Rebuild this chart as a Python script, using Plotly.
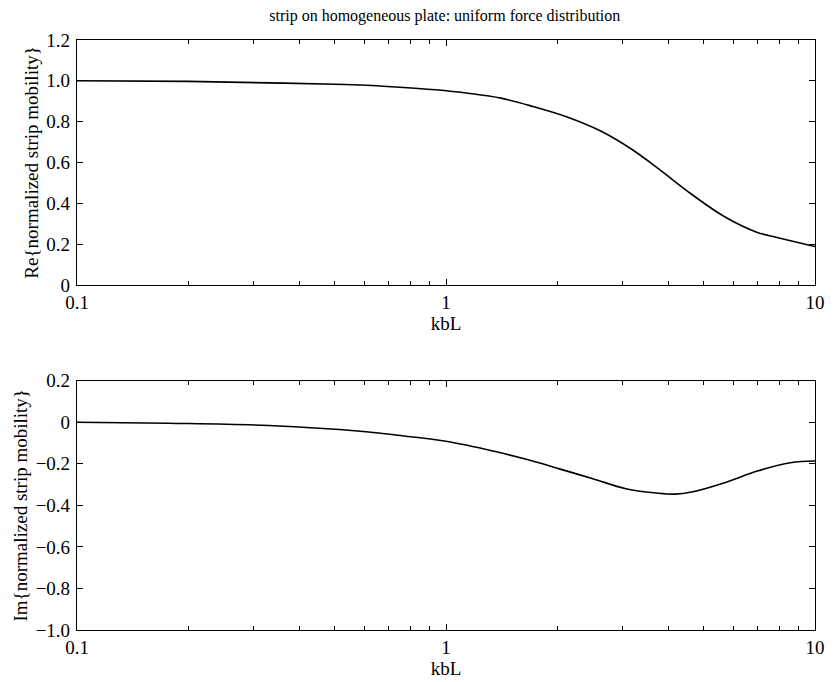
import plotly.graph_objects as go

# ---- data ----
kbl_re = [0.1, 0.2, 0.33, 0.5, 0.607, 0.73, 0.934, 1.147, 1.41, 1.73, 2.12, 2.61,
          3.20, 3.77, 4.63, 5.69, 6.98, 7.89, 10.0]
re_mob = [1.0, 0.997, 0.99, 0.983, 0.978, 0.970, 0.956, 0.939, 0.915, 0.873, 0.824,
          0.756, 0.662, 0.568, 0.444, 0.334, 0.257, 0.232, 0.188]

kbl_im = [0.1, 0.177, 0.33, 0.607, 0.73, 1.0, 1.35, 1.66, 2.04, 2.5, 3.07,
          3.77, 4.17, 4.63, 5.69, 6.98, 8.58, 10.0]
im_mob = [0.0, -0.005, -0.016, -0.046, -0.062, -0.092, -0.140, -0.180, -0.226,
          -0.272, -0.320, -0.342, -0.346, -0.336, -0.291, -0.235, -0.195, -0.187]

x_tickvals = [0.1, 1, 10]
x_ticktext = ["0.1", "1", "10"]
x_minor = [0.2, 0.3, 0.4, 0.5, 0.6, 0.7, 0.8, 0.9, 2, 3, 4, 5, 6, 7, 8, 9]

re_tickvals = [0, 0.2, 0.4, 0.6, 0.8, 1.0, 1.2]
re_ticktext = ["0", "0.2", "0.4", "0.6", "0.8", "1.0", "1.2"]
im_tickvals = [-1.0, -0.8, -0.6, -0.4, -0.2, 0, 0.2]
im_ticktext = ["\u22121.0", "\u22120.8", "\u22120.6", "\u22120.4", "\u22120.2", "0", "0.2"]

title_text = "strip on homogeneous plate: uniform force distribution"
FONT = "Liberation Serif"
FS = 19

fig = go.Figure()
fig.add_trace(go.Scatter(x=kbl_re, y=re_mob, mode="lines",
                         line=dict(color="black", width=1.6, shape="spline", smoothing=1.0),
                         xaxis="x", yaxis="y", showlegend=False))
fig.add_trace(go.Scatter(x=kbl_im, y=im_mob, mode="lines",
                         line=dict(color="black", width=1.6, shape="spline", smoothing=1.0),
                         xaxis="x2", yaxis="y2", showlegend=False))

def xax(anchor):
    return dict(type="log", range=[-1, 1], tickvals=x_tickvals, ticktext=x_ticktext,
                ticks="inside", ticklen=6, tickwidth=1, tickcolor="black",
                ticklabelstandoff=0,
                minor=dict(tickvals=x_minor, ticks="inside", ticklen=4, tickcolor="black"),
                showline=True, linecolor="black", linewidth=1.2, mirror="ticks",
                showgrid=False, zeroline=False, anchor=anchor, domain=[0, 1],
                title=dict(text="kbL", standoff=0, font=dict(size=FS, family=FONT, color="black")),
                tickfont=dict(size=FS, family=FONT, color="black"))

def yax(anchor, rng, tv, tt, dom, title):
    return dict(range=rng, tickvals=tv, ticktext=tt, ticks="inside", ticklen=6,
                tickwidth=1, tickcolor="black", showline=True, linecolor="black",
                linewidth=1.2, mirror="ticks", showgrid=False, zeroline=False,
                anchor=anchor, domain=dom, ticklabelstandoff=2,
                title=dict(text=title, standoff=2, font=dict(size=FS, family=FONT, color="black")),
                tickfont=dict(size=FS, family=FONT, color="black"))

fig.update_layout(
    width=836, height=682,
    margin=dict(l=77, r=11, t=40, b=47),
    paper_bgcolor="white", plot_bgcolor="white",
    font=dict(family=FONT, color="black"),
    title=dict(text=title_text, x=0.532, xanchor="center", y=0.978, yanchor="middle",
               font=dict(size=16, family=FONT, color="black")),
    xaxis=xax("y"),
    yaxis=yax("x", [0, 1.2], re_tickvals, re_ticktext, [0.585, 1.0],
              "Re{normalized strip mobility}"),
    xaxis2=xax("y2"),
    yaxis2=yax("x2", [-1.0, 0.2], im_tickvals, im_ticktext, [0.0, 0.4227],
               "Im{normalized strip mobility}"),
)

fig.write_html("out.html")
